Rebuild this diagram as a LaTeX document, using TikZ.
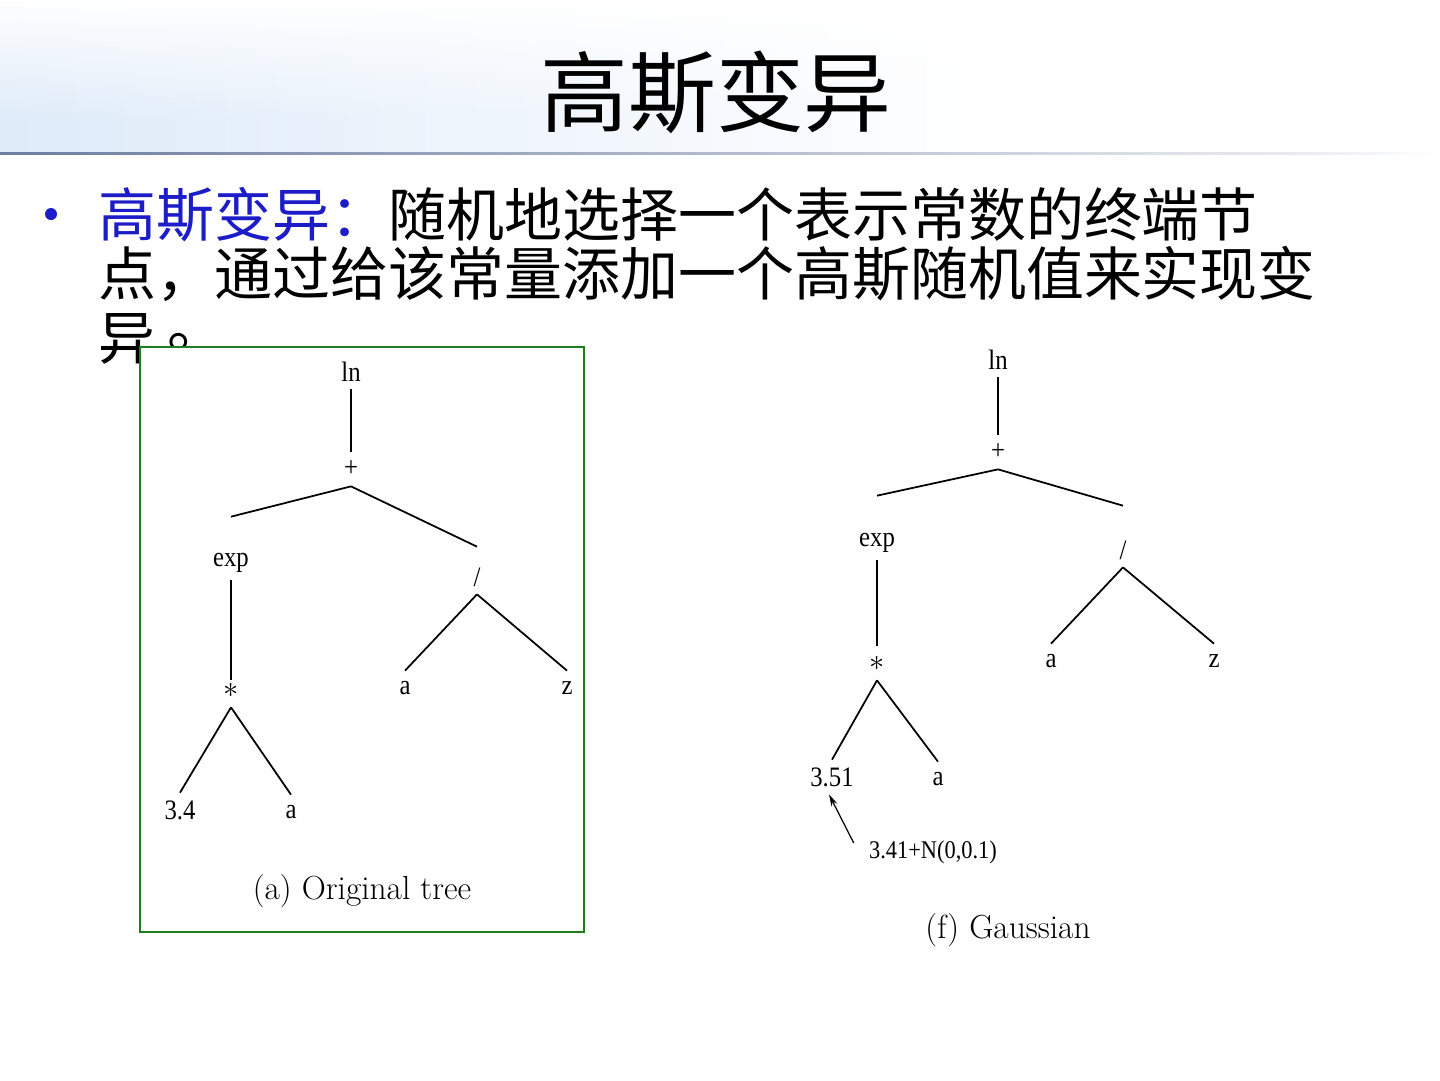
\documentclass[tikz,border=0pt]{standalone}
\usepackage{fontspec}
\newfontfamily\cjk{Noto Sans CJK SC}
\newfontfamily\treefont{Liberation Serif}[FakeStretch=0.88]
\usetikzlibrary{arrows.meta,fadings}
\definecolor{hlblue}{RGB}{28,28,200}
\definecolor{boxgreen}{RGB}{30,125,30}
\definecolor{hdblue}{RGB}{222,235,249}
\definecolor{hdline}{RGB}{110,125,160}
\begin{document}
\begin{tikzpicture}[x=0.02cm,y=-0.02cm,
    tn/.style={font=\treefont\fontsize{16}{16}\selectfont, inner sep=0pt, minimum height=0.68cm},
    edge/.style={line width=1pt},
    captext/.style={font=\fontsize{19}{22}\selectfont},
    body/.style={font=\cjk\fontsize{33}{40}\selectfont, anchor=base west, inner sep=0pt,
        text height=0.85em, text depth=0.12em}]
    % Page and header band
    \useasboundingbox (0,0) rectangle (1440,1080);
    \fill[white] (0,0) rectangle (1440,1080);
    \shade[left color=hdblue, right color=white] (0,0) rectangle (1000,153);
    \fill[white, path fading=south] (0,0) rectangle (1000,120);
    \shade[left color=hdline, right color=hdline!15] (0,152) rectangle (1300,154.5);
    \shade[left color=hdline!15, right color=white] (1300,152) rectangle (1440,154.5);

    % Title
    \node[font=\cjk\fontsize{50}{60}\selectfont] (title) at (716,92) {高斯变异};

    % Bullet text
    \fill[hlblue] (51,214) circle (6);
    \node[body] (line1) at (98,236) {{\color{hlblue}高斯变异：}随机地选择一个表示常数的终端节};
    \node[body] (line2) at (98,295) {点，通过给该常量添加一个高斯随机值来实现变};
    \node[body] (line3) at (98,359) {异\kern0.2em\raisebox{0.2em}{。}};

    % Box round the original tree
    \draw[boxgreen, line width=1.1pt, fill=white] (140,347) rectangle (584,932);

    % Original tree
    \node[tn] (aln) at (351,372) {ln};
    \node[tn] (aplus) at (351,469) {+};
    \node[tn] (aexp) at (231,563) {exp};
    \node[tn] (adiv) at (477,577) {/};
    \node[tn] (amul) at (231,690) {$\ast$};
    \node[tn] (aa2) at (405,688) {a};
    \node[tn] (az) at (567,688) {z};
    \node[tn] (aconst) at (180,810) {3.4};
    \node[tn] (aa1) at (291,812) {a};
    \foreach \p/\c/\s in {aln/aplus/0, aplus/aexp/0.58, aplus/adiv/0.26, aexp/amul/-0.14,
        amul/aconst/0, amul/aa1/0, adiv/aa2/0, adiv/az/0}
        \draw[edge] (\p.south) -- ([yshift=\s cm]\c.north);
    \node[captext] (acap) at (362,891) {(a) Original tree};

    % Gaussian mutated tree
    \node[tn] (fln) at (998,360) {ln};
    \node[tn] (fplus) at (998,452) {+};
    \node[tn] (fexp) at (877,543) {exp};
    \node[tn] (fdiv) at (1123,550) {/};
    \node[tn] (fmul) at (877,663) {$\ast$};
    \node[tn] (fa2) at (1051,661) {a};
    \node[tn] (fz) at (1214,661) {z};
    \node[tn] (fconst) at (832,777) {3.51};
    \node[tn] (fa1) at (938,779) {a};
    \foreach \p/\c/\s in {fln/fplus/0, fplus/fexp/0.6, fplus/fdiv/0.54, fexp/fmul/0,
        fmul/fconst/0, fmul/fa1/0, fdiv/fa2/0, fdiv/fz/0}
        \draw[edge] (\p.south) -- ([yshift=\s cm]\c.north);
    \node[font=\treefont\fontsize{14.5}{16}\selectfont, inner sep=0pt] (noise) at (933,852) {3.41+N(0,0.1)};
    \draw[line width=0.7pt, -{Stealth[length=0.24cm, width=0.13cm]}]
        ([xshift=-0.3cm, yshift=0.18cm]noise.west) -- ([xshift=-0.06cm]fconst.south);
    \node[captext] (fcap) at (1008,930) {(f) Gaussian};
\end{tikzpicture}
\end{document}
